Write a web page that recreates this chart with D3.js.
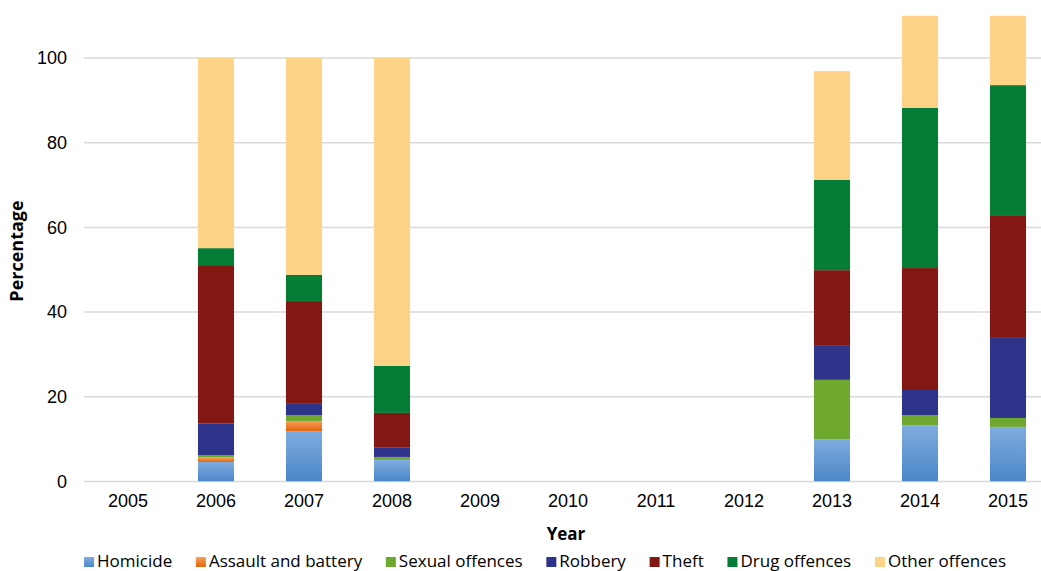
<!DOCTYPE html>
<html>
<head>
<meta charset="utf-8">
<script src="https://cdn.jsdelivr.net/npm/d3@7"></script>
<style>
  body { margin: 0; background: #fff; }
  svg { display: block; }
</style>
</head>
<body>
<svg id="chart" width="1041" height="571"></svg>
<script>
// years on the x axis
var years = ["2005", "2006", "2007", "2008", "2009", "2010", "2011", "2012", "2013", "2014", "2015"];
var series = ["Homicide", "Assault and battery", "Sexual offences", "Robbery", "Theft", "Drug offences", "Other offences"];
// percentages per year, empty years are 0
var homicide = [0, 4.6, 11.9, 5.1, 0, 0, 0, 0, 10.0, 13.3, 12.9];
var assault  = [0, 1.1, 2.4, 0, 0, 0, 0, 0, 0, 0, 0];
var sexual   = [0, 0.55, 1.4, 0.7, 0, 0, 0, 0, 14.0, 2.4, 2.1];
var robbery  = [0, 7.4, 2.8, 2.3, 0, 0, 0, 0, 8.2, 5.9, 19.1];
var theft    = [0, 37.45, 24.1, 8.1, 0, 0, 0, 0, 17.7, 28.8, 28.6];
var drugs    = [0, 4.0, 6.2, 11.1, 0, 0, 0, 0, 21.3, 37.8, 30.9];
var other    = [0, 44.9, 51.2, 72.7, 0, 0, 0, 0, 25.7, 25, 20];
var yTicks = [0, 20, 40, 60, 80, 100];

var colors = ["#5b97d3", "#e8700f", "#6fa82f", "#2e348a", "#831812", "#067d36", "#fdd387"];

// build rows for the stack
var table = years.map(function(y, i) {
    return {
        year: y,
        "Homicide": homicide[i],
        "Assault and battery": assault[i],
        "Sexual offences": sexual[i],
        "Robbery": robbery[i],
        "Theft": theft[i],
        "Drug offences": drugs[i],
        "Other offences": other[i]
    };
});

var svg = d3.select("#chart");
var left = 84, right = 1052, plotRight = 1041;

var x = d3.scaleBand().domain(years).range([left, right]).paddingInner(0.59).paddingOuter(0.295);
var y = d3.scaleLinear().domain([0, 110]).range([481.5, 481.5 - 110 * 4.235]);

var defs = svg.append("defs");
defs.append("clipPath").attr("id", "plotclip")
    .append("rect").attr("x", 0).attr("y", y(110)).attr("width", 1041).attr("height", y(0) - y(110));

var gradHom = defs.append("linearGradient").attr("id", "gradHom").attr("x1", 0).attr("y1", 0).attr("x2", 0).attr("y2", 1);
gradHom.append("stop").attr("offset", "0%").attr("stop-color", "#80acdf");
gradHom.append("stop").attr("offset", "100%").attr("stop-color", "#4a87c7");
var gradAs = defs.append("linearGradient").attr("id", "gradAs").attr("x1", 0).attr("y1", 0).attr("x2", 0).attr("y2", 1);
gradAs.append("stop").attr("offset", "0%").attr("stop-color", "#f4a05a");
gradAs.append("stop").attr("offset", "100%").attr("stop-color", "#e4650c");
var fills = ["url(#gradHom)", "url(#gradAs)", colors[2], colors[3], colors[4], colors[5], colors[6]];

// gridlines
svg.append("g").selectAll("line")
    .data(yTicks)
    .enter().append("line")
    .attr("x1", left).attr("x2", plotRight)
    .attr("y1", function(d) { return y(d); })
    .attr("y2", function(d) { return y(d); })
    .attr("stroke", "#d9d9d9")
    .attr("stroke-width", 1.5);

// y axis labels
var yAxis = svg.append("g")
    .attr("transform", "translate(" + left + ",0)")
    .call(d3.axisLeft(y).tickValues(yTicks).tickSize(0).tickPadding(17));
yAxis.select(".domain").remove();
yAxis.selectAll("text")
    .attr("font-family", "Liberation Sans, Arial, sans-serif")
    .attr("font-size", 18)
    .attr("fill", "#000");

// x axis labels
var xAxis = svg.append("g")
    .attr("transform", "translate(0," + y(0) + ")")
    .call(d3.axisBottom(x).tickSize(0).tickPadding(13));
xAxis.select(".domain").remove();
xAxis.selectAll("text")
    .attr("font-family", "Liberation Sans, Arial, sans-serif")
    .attr("font-size", 18)
    .attr("fill", "#000");

// stacked bars
var stack = d3.stack().keys(series);
var layers = stack(table);

svg.append("g")
    .attr("clip-path", "url(#plotclip)")
    .selectAll("g")
    .data(layers)
    .enter().append("g")
    .attr("fill", function(d, i) { return fills[i]; })
    .selectAll("rect")
    .data(function(d) { return d; })
    .enter().append("rect")
    .attr("x", function(d) { return x(d.data.year); })
    .attr("y", function(d) { return y(d[1]); })
    .attr("width", x.bandwidth())
    .attr("height", function(d) { return y(d[0]) - y(d[1]); });

// axis titles
svg.append("text")
    .attr("x", 566).attr("y", 540)
    .attr("text-anchor", "middle")
    .attr("font-family", "Open Sans, sans-serif")
    .attr("font-weight", "bold")
    .attr("font-size", 17)
    .text("Year");

svg.append("text")
    .attr("transform", "translate(23,251) rotate(-90)")
    .attr("text-anchor", "middle")
    .attr("font-family", "Open Sans, sans-serif")
    .attr("font-weight", "bold")
    .attr("font-size", 18)
    .text("Percentage");

// legend
var legend = svg.append("g");
var items = legend.selectAll("g")
    .data(series)
    .enter().append("g");
items.append("rect")
    .attr("width", 10).attr("height", 10)
    .attr("y", -10)
    .attr("fill", function(d, i) { return fills[i]; });
items.append("text")
    .attr("x", 13)
    .attr("font-family", "Open Sans, sans-serif")
    .attr("font-size", 17)
    .attr("fill", "#000")
    .text(function(d) { return d; });

// spread legend entries between the left edge and x=1006
var widths = [];
items.each(function() { widths.push(d3.select(this).select("text").node().getComputedTextLength()); });
var used = d3.sum(widths) + 13 * widths.length;
var gap = (1006 - 84 - used) / (widths.length - 1);
var pos = 84;
items.each(function(d, i) {
    d3.select(this).attr("transform", "translate(" + pos + ",567)");
    pos += 13 + widths[i] + gap;
});
</script>
</body>
</html>
